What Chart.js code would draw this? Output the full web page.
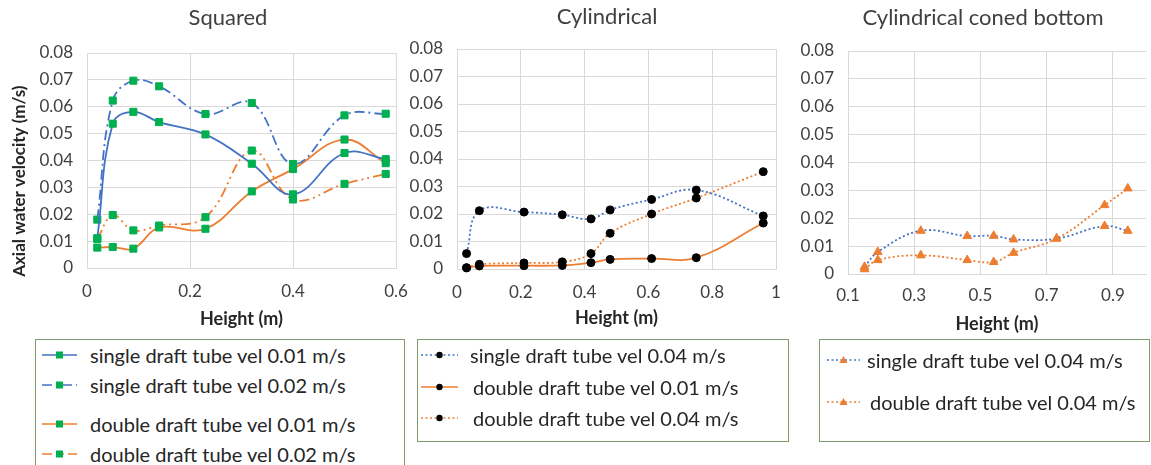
<!DOCTYPE html>
<html><head><meta charset="utf-8">
<script src="https://cdn.jsdelivr.net/npm/chart.js@4.4.1/dist/chart.umd.min.js"></script>
<style>
html,body{margin:0;padding:0;width:1151px;height:465px;overflow:hidden;background:#fff;font-family:Lato,sans-serif;}
canvas{position:absolute;top:0;}
.legend{position:absolute;border:1.5px solid #7f9a6c;box-sizing:border-box;}
.item{position:absolute;height:24px;line-height:24px;font-size:20px;color:#262626;white-space:nowrap;}
.item svg{position:absolute;top:6px;}
</style></head><body>
<canvas id="c1" width="456" height="330" style="left:0"></canvas>
<canvas id="c2" width="414" height="330" style="left:400px"></canvas>
<canvas id="c3" width="376" height="340" style="left:795px"></canvas>
<div id="leg1" class="legend" style="left:35px;top:339px;width:370px;height:150px"></div>
<div id="leg2" class="legend" style="left:417px;top:339px;width:372px;height:103px"></div>
<div id="leg3" class="legend" style="left:819px;top:339px;width:331px;height:103px"></div>
<script>
// ---------------- DATA ----------------
const panelTitles = ['Squared', 'Cylindrical', 'Cylindrical coned bottom'];
const yAxisTitle = 'Axial water velocity (m/s)';
const xAxisTitle = 'Height (m)';

const yTickValues = [0, 0.01, 0.02, 0.03, 0.04, 0.05, 0.06, 0.07, 0.08];
const yTickLabels = ['0', '0.01', '0.02', '0.03', '0.04', '0.05', '0.06', '0.07', '0.08'];

const sqXTickValues = [0, 0.2, 0.4, 0.6];
const sqXTickLabels = ['0', '0.2', '0.4', '0.6'];
const cylXTickValues = [0, 0.2, 0.4, 0.6, 0.8, 1];
const cylXTickLabels = ['0', '0.2', '0.4', '0.6', '0.8', '1'];
const coneXTickValues = [0.1, 0.3, 0.5, 0.7, 0.9];
const coneXTickLabels = ['0.1', '0.3', '0.5', '0.7', '0.9'];

// Squared
const sqHeights   = [0.02, 0.05, 0.09, 0.14, 0.23, 0.32, 0.40, 0.50, 0.58];
const sqSingle001 = [0.0111, 0.0537, 0.0581, 0.0543, 0.0497, 0.0388, 0.0274, 0.0428, 0.0405];
const sqSingle002 = [0.0180, 0.0623, 0.0697, 0.0676, 0.0573, 0.0614, 0.0387, 0.0568, 0.0574];
const sqDouble001 = [0.0076, 0.0078, 0.0072, 0.0151, 0.0146, 0.0285, 0.0368, 0.0478, 0.0390];
const sqDouble002 = [0.0108, 0.0197, 0.0140, 0.0158, 0.0189, 0.0437, 0.0255, 0.0313, 0.0350];
const sqLabels = ['single draft tube vel 0.01 m/s', 'single draft tube vel 0.02 m/s',
                  'double draft tube vel 0.01 m/s', 'double draft tube vel 0.02 m/s'];

// Cylindrical
const cylHeights   = [0.03, 0.07, 0.21, 0.33, 0.42, 0.48, 0.61, 0.75, 0.96];
const cylSingle004 = [0.0056, 0.0212, 0.0207, 0.0197, 0.0182, 0.0215, 0.0253, 0.0287, 0.0193];
const cylDouble001 = [0.0004, 0.0011, 0.0012, 0.0013, 0.0023, 0.0035, 0.0038, 0.0041, 0.0167];
const cylDouble004 = [0.0005, 0.0017, 0.0022, 0.0026, 0.0056, 0.0130, 0.0200, 0.0258, 0.0354];
const cylLabels = ['single draft tube vel 0.04 m/s', 'double draft tube vel 0.01 m/s',
                   'double draft tube vel 0.04 m/s'];

// Cylindrical coned bottom
const coneHeights   = [0.15, 0.19, 0.32, 0.46, 0.54, 0.60, 0.73, 0.875, 0.945];
const coneSingle004 = [0.0026, 0.0079, 0.0155, 0.0136, 0.0137, 0.0124, 0.0127, 0.0172, 0.0155];
const coneDouble004 = [0.0017, 0.0050, 0.0067, 0.0050, 0.0043, 0.0076, 0.0127, 0.0247, 0.0307];
const coneLabels = ['single draft tube vel 0.04 m/s', 'double draft tube vel 0.04 m/s'];

// ---------------- STYLE ----------------
const BLUE = '#4472C4', ORANGE = '#ED7D31', GREEN = '#00B050', BLACK = '#000000';
const GRID = '#d9d9d9', TXT = '#404040', FONT = 'Lato';
const DASH_DOT = [10, 4, 2, 4], DASH_DOT_DOT = [10, 4, 2, 4, 2, 4], DOT = [2, 2.5], SOLID = [];

function pts(xs, ys) { return xs.map((x, i) => ({x: x, y: ys[i]})); }

function ds(label, xs, ys, color, dash, pStyle, pColor, pRadius) {
  return {
    label: label, data: pts(xs, ys), borderColor: color, borderWidth: 1.8, borderDash: dash,
    tension: 0.4, fill: false, clip: false,
    pointStyle: pStyle, pointRadius: pRadius, pointBackgroundColor: pColor, pointBorderColor: pColor,
    pointBorderWidth: 1
  };
}

function makeChart(id, title, titlePad, datasets, x, y) {
  return new Chart(document.getElementById(id), {
    type: 'line',
    data: {datasets: datasets},
    options: {
      responsive: false, animation: false, devicePixelRatio: 1,
      layout: {padding: 0},
      plugins: {
        legend: {display: false}, tooltip: {enabled: false},
        title: {display: true, text: title, color: TXT, font: {family: FONT, size: 22, weight: 'normal'},
                padding: titlePad}
      },
      scales: {
        x: {
          type: 'linear', min: x.min, max: x.max,
          afterBuildTicks: s => { s.ticks = x.ticks.map(v => ({value: v})); },
          afterFit: s => { s.height = x.height; },
          ticks: {callback: (v, i) => x.labels[i], padding: x.tickPad, color: TXT, autoSkip: false, maxRotation: 0,
                  font: {family: FONT, size: 17}},
          grid: {color: GRID, drawTicks: false, lineWidth: 1},
          border: {color: GRID, width: 1},
          title: {display: true, text: xAxisTitle, color: '#262626', font: {family: FONT, size: 18, weight: 'bold'},
                  padding: {top: 0, bottom: x.titlePadBottom}}
        },
        y: {
          type: 'linear', min: 0, max: 0.08,
          afterBuildTicks: s => { s.ticks = yTickValues.map(v => ({value: v})); },
          afterFit: s => { s.width = y.width; },
          ticks: {callback: (v, i) => yTickLabels[i], padding: 14, color: TXT, font: {family: FONT, size: 17}},
          grid: {color: GRID, drawTicks: false, lineWidth: 1},
          border: {color: GRID, width: 1},
          title: {display: !!y.title, text: y.title || '', color: '#262626',
                  font: {family: FONT, size: 17, weight: 'bold'}, padding: {top: 9, bottom: 0}}
        },
        // empty spacer on the right so the chart title stays centred over the panel
        spacer: {
          type: 'linear', position: 'right', display: true,
          afterFit: s => { s.width = x.padRight; },
          ticks: {display: false}, grid: {display: false, drawOnChartArea: false}, border: {display: false}
        }
      }
    }
  });
}

makeChart('c1', panelTitles[0], {top: 5, bottom: 21.6}, [
  ds(sqLabels[0], sqHeights, sqSingle001, BLUE, SOLID, 'rect', GREEN, 5),
  ds(sqLabels[1], sqHeights, sqSingle002, BLUE, DASH_DOT, 'rect', GREEN, 5),
  ds(sqLabels[2], sqHeights, sqDouble001, ORANGE, SOLID, 'rect', GREEN, 5),
  ds(sqLabels[3], sqHeights, sqDouble002, ORANGE, DASH_DOT_DOT, 'rect', GREEN, 5)
], {min: 0, max: 0.6, ticks: sqXTickValues, labels: sqXTickLabels, height: 62, tickPad: 13, titlePadBottom: 0, padRight: 60},
   {width: 87, title: yAxisTitle + '          '});

makeChart('c2', panelTitles[1], {top: 4, bottom: 18.6}, [
  ds(cylLabels[0], cylHeights, cylSingle004, BLUE, DOT, 'circle', BLACK, 4),
  ds(cylLabels[1], cylHeights, cylDouble001, ORANGE, SOLID, 'circle', BLACK, 4),
  ds(cylLabels[2], cylHeights, cylDouble004, ORANGE, DOT, 'circle', BLACK, 4)
], {min: 0, max: 1, ticks: cylXTickValues, labels: cylXTickLabels, height: 61, tickPad: 13, titlePadBottom: 1, padRight: 38},
   {width: 57});

makeChart('c3', panelTitles[2], {top: 5, bottom: 19.6}, [
  ds(coneLabels[0], coneHeights, coneSingle004, BLUE, DOT, 'triangle', ORANGE, 5),
  ds(coneLabels[1], coneHeights, coneDouble004, ORANGE, DOT, 'triangle', ORANGE, 5)
], {min: 0.1, max: 1.0, ticks: coneXTickValues, labels: coneXTickLabels, height: 66, tickPad: 11, titlePadBottom: 5, padRight: 25},
   {width: 53});

// ---------------- LEGENDS (HTML) ----------------
function sampleSvg(w, color, dash, marker, mColor) {
  const h = 12, cy = 6, cx = w / 2;
  let m = '';
  if (marker === 'rect') m = `<rect x="${cx - 3.5}" y="${cy - 3.5}" width="7" height="7" fill="${mColor}"/>`;
  if (marker === 'circle') m = `<circle cx="${cx}" cy="${cy}" r="3.2" fill="${mColor}"/>`;
  if (marker === 'triangle') m = `<polygon points="${cx},${cy - 4} ${cx + 4},${cy + 3} ${cx - 4},${cy + 3}" fill="${mColor}"/>`;
  const da = dash.length ? `stroke-dasharray="${dash.join(' ')}"` : '';
  return `<svg width="${w}" height="${h}"><line x1="0" y1="${cy}" x2="${w}" y2="${cy}" stroke="${color}" stroke-width="1.5" ${da}/>${m}</svg>`;
}
function addItem(legId, boxLeft, boxTop, label, sx, sw, tx, cy, color, dash, marker, mColor) {
  const leg = document.getElementById(legId);
  const d = document.createElement('div');
  d.className = 'item';
  d.style.left = (sx - boxLeft) + 'px';
  d.style.top = (cy - 12 - boxTop) + 'px';
  d.innerHTML = sampleSvg(sw, color, dash, marker, mColor) +
    `<span style="position:absolute;left:${tx - sx}px;top:0">${label}</span>`;
  leg.appendChild(d);
}
const L1 = [[BLUE, SOLID], [BLUE, DASH_DOT], [ORANGE, SOLID], [ORANGE, DASH_DOT_DOT]];
const L1y = [355, 385, 424, 454];
sqLabels.forEach((lab, i) => addItem('leg1', 36, 340, lab, 42, 35, 90, L1y[i], L1[i][0], L1[i][1], 'rect', GREEN));
const L2 = [[BLUE, DOT], [ORANGE, SOLID], [ORANGE, DOT]];
const L2y = [355, 387, 418];
const L2tx = [470, 473, 473];
cylLabels.forEach((lab, i) => addItem('leg2', 418, 340, lab, 421, 37, L2tx[i], L2y[i], L2[i][0], L2[i][1], 'circle', BLACK));
const L3 = [[BLUE, DOT], [ORANGE, DOT]];
const L3y = [360, 402];
const L3tx = [867, 870];
coneLabels.forEach((lab, i) => addItem('leg3', 820, 340, lab, 827, 33, L3tx[i], L3y[i], L3[i][0], L3[i][1], 'triangle', ORANGE));
</script>
</body></html>
